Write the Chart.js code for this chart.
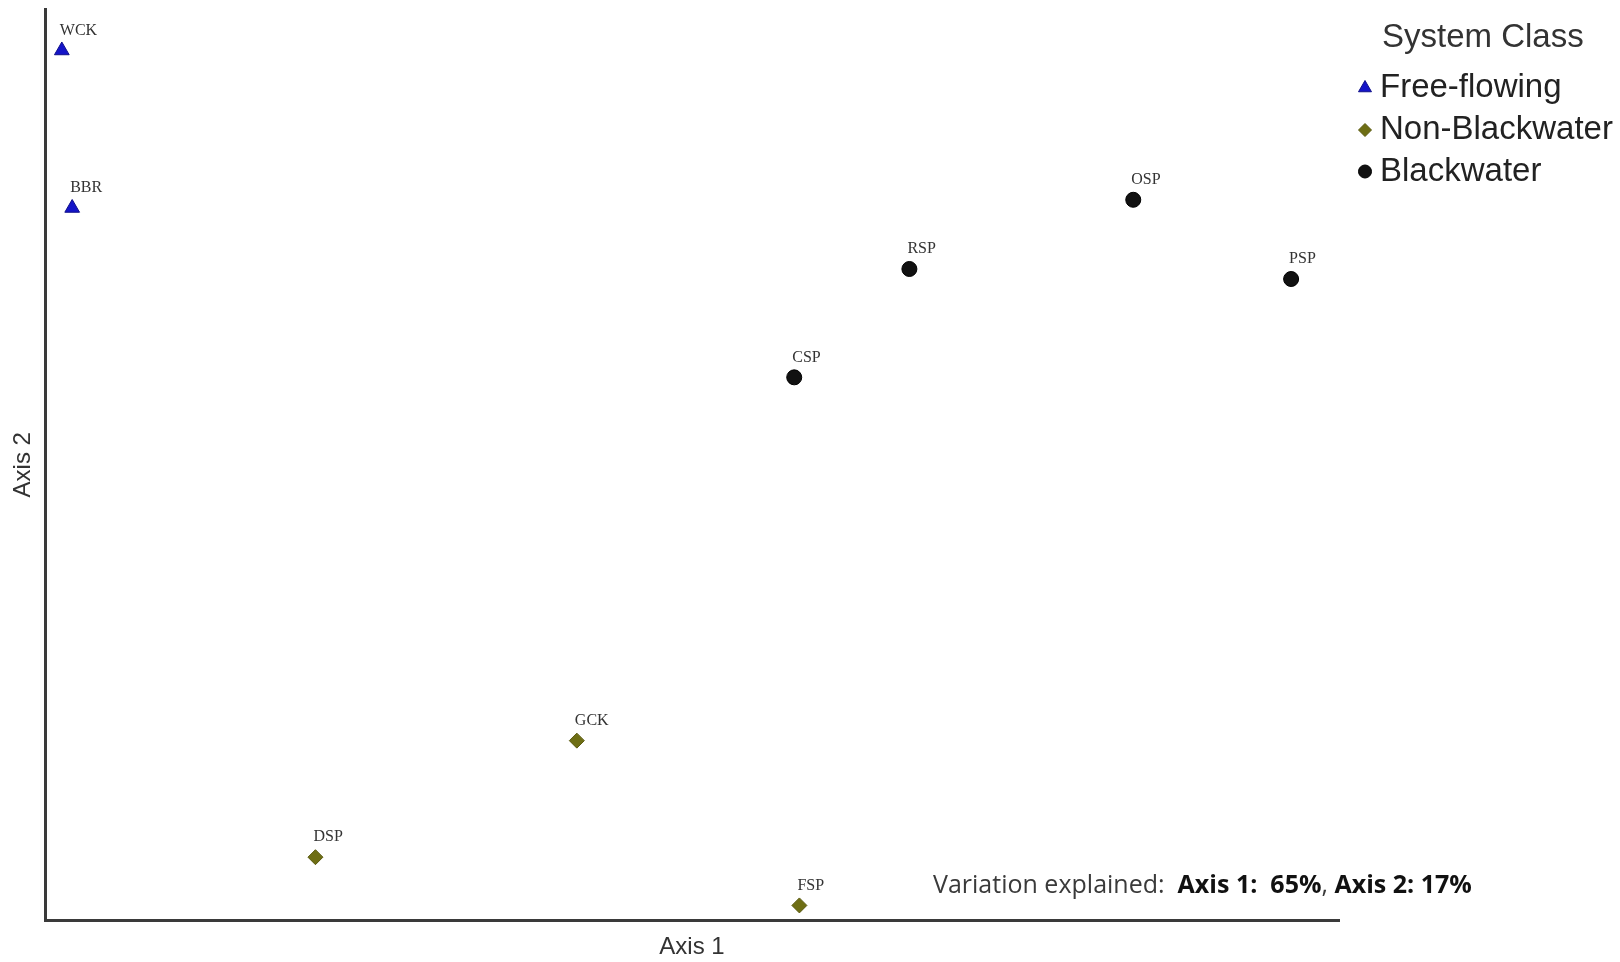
<!DOCTYPE html>
<html>
<head>
<meta charset="utf-8">
<script src="https://cdn.jsdelivr.net/npm/chart.js@4/dist/chart.umd.min.js"></script>
<style>
	html, body { margin: 0; padding: 0; background: #fff; }
	#wrap { width: 1620px; height: 962px; }
</style>
</head>
<body>
<div id="wrap"><canvas id="ordination" width="1620" height="962"></canvas></div>
<script>
// NMS site scores (arbitrary units 0-100)
const freeFlowingSites = ['WCK', 'BBR'];
const freeFlowingAxis1 = [1.3, 2.1];
const freeFlowingAxis2 = [95.5, 78.2];

const nonBlackwaterSites = ['GCK', 'DSP', 'FSP'];
const nonBlackwaterAxis1 = [41.1, 20.9, 58.3];
const nonBlackwaterAxis2 = [19.7, 6.9, 1.6];

const blackwaterSites = ['OSP', 'RSP', 'PSP', 'CSP'];
const blackwaterAxis1 = [84.1, 66.8, 96.3, 57.9];
const blackwaterAxis2 = [79.1, 71.5, 70.4, 59.6];

const legendTitle = 'System Class';
const axisTitles = ['Axis 1', 'Axis 2'];
const variationParts = [
	['Variation explained:  ', false],
	['Axis 1:  65%', true],
	[', ', false],
	['Axis 2: 17%', true],
];

const d = document;

const toPoints = (xs, ys) => xs.map((x, i) => ({ x, y: ys[i] }));

const datasets = [
	{
		label: 'Free-flowing',
		sites: freeFlowingSites,
		data: toPoints(freeFlowingAxis1, freeFlowingAxis2),
		pointStyle: 'triangle',
		pointRadius: 8.5,
		backgroundColor: '#1414c8',
		borderColor: '#10108a',
		borderWidth: 1,
		legendRadius: 7.5,
	},
	{
		label: 'Non-Blackwater',
		sites: nonBlackwaterSites,
		data: toPoints(nonBlackwaterAxis1, nonBlackwaterAxis2),
		pointStyle: 'rectRot',
		pointRadius: 7.5,
		backgroundColor: '#6e6e14',
		borderColor: '#5a5a10',
		borderWidth: 1,
		legendRadius: 6.5,
	},
	{
		label: 'Blackwater',
		sites: blackwaterSites,
		data: toPoints(blackwaterAxis1, blackwaterAxis2),
		pointStyle: 'circle',
		pointRadius: 7.5,
		backgroundColor: '#111111',
		borderColor: '#000000',
		borderWidth: 1,
		legendRadius: 6.5,
	},
];

// site codes next to each marker
const siteLabels = {
	id: 'siteLabels',
	afterDatasetsDraw(chart) {
		const ctx = chart.ctx;
		ctx.save();
		ctx.font = '16px "Liberation Serif", "Times New Roman", serif';
		ctx.fillStyle = '#333';
		ctx.textAlign = 'left';
		ctx.textBaseline = 'middle';
		chart.data.datasets.forEach((ds, i) => {
			chart.getDatasetMeta(i).data.forEach((pt, j) => {
				ctx.fillText(ds.sites[j], pt.x - 2, pt.y - 20);
			});
		});
		ctx.restore();
	},
};

// legend box top right with the class title
const classLegend = {
	id: 'classLegend',
	afterDraw(chart) {
		const ctx = chart.ctx;
		ctx.save();
		ctx.font = '33px "Liberation Sans", Arial, sans-serif';
		ctx.textBaseline = 'middle';
		ctx.textAlign = 'left';
		ctx.fillStyle = '#333';
		ctx.fillText(legendTitle, 1382, 38);
		const rows = [88, 130, 171.5];
		chart.data.datasets.forEach((ds, i) => {
			ctx.fillStyle = ds.backgroundColor;
			ctx.strokeStyle = ds.borderColor;
			ctx.lineWidth = 1;
			Chart.helpers.drawPoint(ctx, {
				pointStyle: ds.pointStyle,
				radius: ds.legendRadius,
				rotation: 0,
				borderWidth: 1,
			}, 1365, rows[i]);
			ctx.fillStyle = '#222';
			ctx.fillText(ds.label, 1380, rows[i]);
		});
		ctx.restore();
	},
};

// "Variation explained" note, sized to span the same width as the original
const variationNote = {
	id: 'variationNote',
	afterDraw(chart) {
		const ctx = chart.ctx;
		const family = '"Open Sans", "Noto Sans", sans-serif';
		const fontFor = (bold, size) => `${bold ? 'bold ' : ''}${size}px ${family}`;
		ctx.save();
		let w = 0;
		variationParts.forEach(([txt, bold]) => {
			ctx.font = fontFor(bold, 20);
			w += ctx.measureText(txt).width;
		});
		const size = 20 * 539 / w;
		ctx.textBaseline = 'middle';
		ctx.textAlign = 'left';
		let x = 933;
		variationParts.forEach(([txt, bold]) => {
			ctx.font = fontFor(bold, size);
			ctx.fillStyle = bold ? '#111' : '#3a3a3a';
			ctx.fillText(txt, x, 886);
			x += ctx.measureText(txt).width;
		});
		ctx.restore();
	},
};

const axisFont = { family: '"Liberation Sans", Arial, sans-serif', size: 24 };

new Chart(d.getElementById('ordination'), {
	type: 'scatter',
	data: { datasets },
	plugins: [siteLabels, classLegend, variationNote],
	options: {
		responsive: false,
		animation: false,
		clip: false,
		layout: { padding: { top: 8, right: 281, bottom: 0, left: 0 } },
		plugins: {
			legend: { display: false },
			tooltip: { enabled: false },
		},
		scales: {
			x: {
				min: 0,
				max: 100,
				grid: { display: false },
				ticks: { display: false },
				border: { display: true, color: '#3a3a3a', width: 3 },
				title: { display: true, text: axisTitles[0], color: '#333', font: axisFont, padding: { top: 0, bottom: 0 } },
				afterFit: (scale) => { scale.height = 42; },
			},
			y: {
				min: 0,
				max: 100,
				grid: { display: false },
				ticks: { display: false },
				border: { display: true, color: '#3a3a3a', width: 3 },
				title: { display: true, text: axisTitles[1], color: '#333', font: axisFont, padding: { top: 9, bottom: 0 } },
				afterFit: (scale) => { scale.width = 45; },
			},
		},
	},
});
</script>
</body>
</html>
